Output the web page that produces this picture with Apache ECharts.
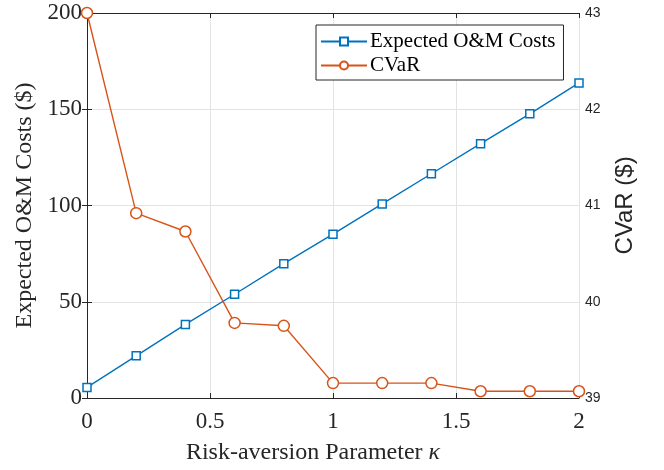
<!DOCTYPE html>
<html>
<head>
<meta charset="utf-8">
<script src="https://cdn.jsdelivr.net/npm/echarts@6/dist/echarts.min.js"></script>
<style>
  html, body { margin: 0; padding: 0; background: #fff; }
  #chart { width: 664px; height: 470px; }
</style>
</head>
<body>
<div id="chart"></div>
<script>
// Risk-aversion parameter values (x axis)
const kappa = [0, 0.2, 0.4, 0.6, 0.8, 1.0, 1.2, 1.4, 1.6, 1.8, 2.0];
// Expected O&M costs ($), left axis
const omCosts = [5.5, 21.9, 38.2, 53.9, 69.8, 85.1, 100.8, 116.5, 132.1, 147.6, 163.7];
// CVaR ($), right axis
const cvar = [43.0, 40.92, 40.73, 39.78, 39.75, 39.155, 39.155, 39.155, 39.07, 39.07, 39.07];

const xTicks = ['0', '0.5', '1', '1.5', '2'];

const serif = 'Liberation Serif';
const sans = 'Liberation Sans';
const axisColor = '#262626';
const gridColor = '#e3e3e3';

const chart = echarts.init(document.getElementById('chart'), null, { renderer: 'canvas' });

const pairs = (ys) => kappa.map((k, i) => [k, ys[i]]);

chart.setOption({
  animation: false,
  backgroundColor: '#fff',
  grid: { left: 87, right: 85, top: 13, bottom: 70, containLabel: false },
  legend: {
    orient: 'vertical',
    left: 316,
    top: 25,
    padding: [6, 8, 4, 4],
    itemGap: 3,
    itemWidth: 46,
    itemHeight: 10,
    borderColor: '#262626',
    borderWidth: 1,
    backgroundColor: '#fff',
    textStyle: { fontFamily: serif, fontSize: 21, color: '#000', padding: [0, 0, 0, -2] },
    data: ['Expected O&M Costs', 'CVaR']
  },
  xAxis: [
    {
      type: 'value', min: 0, max: 2, interval: 0.5,
      name: 'Risk-aversion Parameter {k|\u03BA}',
      nameLocation: 'middle', nameGap: 43,
      nameTextStyle: {
        fontFamily: serif, fontSize: 24, color: '#262626', padding: [0, 40, 0, 0],
        rich: { k: { fontFamily: serif, fontSize: 24, fontStyle: 'italic', color: '#262626' } }
      },
      axisLine: { show: true, lineStyle: { color: axisColor, width: 1 } },
      axisTick: { show: true, inside: true, length: 5, lineStyle: { color: axisColor } },
      axisLabel: {
        fontFamily: serif, fontSize: 23, color: '#262626', margin: 12,
        formatter: (v) => xTicks[Math.round(v / 0.5)]
      },
      splitLine: { show: true, lineStyle: { color: gridColor, width: 1 } }
    },
    {
      type: 'value', min: 0, max: 2, interval: 0.5, position: 'top',
      axisLine: { show: true, lineStyle: { color: axisColor, width: 1 } },
      axisTick: { show: true, inside: true, length: 5, lineStyle: { color: axisColor } },
      axisLabel: { show: false },
      splitLine: { show: false }
    }
  ],
  yAxis: [
    {
      type: 'value', min: 0, max: 200, interval: 50, position: 'left',
      name: 'Expected O&M Costs ($)',
      nameLocation: 'middle', nameGap: 50,
      nameTextStyle: { fontFamily: serif, fontSize: 24, color: '#262626' },
      axisLine: { show: true, lineStyle: { color: axisColor, width: 1 } },
      axisTick: { show: true, inside: true, length: 5, lineStyle: { color: axisColor } },
      axisLabel: { fontFamily: serif, fontSize: 23, color: '#262626', margin: 5 },
      splitLine: { show: true, lineStyle: { color: gridColor, width: 1 } }
    },
    {
      type: 'value', min: 39, max: 43, interval: 1, position: 'right',
      name: 'CVaR ($)',
      nameLocation: 'middle', nameGap: 34, nameRotate: 90,
      nameTextStyle: { fontFamily: sans, fontSize: 24, color: '#262626' },
      axisLine: { show: true, lineStyle: { color: axisColor, width: 1 } },
      axisTick: { show: true, inside: true, length: 5, lineStyle: { color: axisColor } },
      axisLabel: { fontFamily: sans, fontSize: 14, color: '#262626', margin: 6 },
      splitLine: { show: false }
    }
  ],
  series: [
    {
      name: 'Expected O&M Costs',
      type: 'line',
      xAxisIndex: 0, yAxisIndex: 0,
      data: pairs(omCosts),
      symbol: 'rect', symbolSize: 8,
      itemStyle: { color: '#fff', borderColor: '#0072BD', borderWidth: 1.5 },
      lineStyle: { color: '#0072BD', width: 1.4 },
      color: '#0072BD',
      z: 3
    },
    {
      name: 'CVaR',
      type: 'line',
      xAxisIndex: 0, yAxisIndex: 1,
      data: pairs(cvar),
      symbol: 'circle', symbolSize: 11,
      itemStyle: { color: '#fff', borderColor: '#D95319', borderWidth: 1.5 },
      lineStyle: { color: '#D95319', width: 1.4 },
      color: '#D95319',
      z: 3
    }
  ]
});
</script>
</body>
</html>
